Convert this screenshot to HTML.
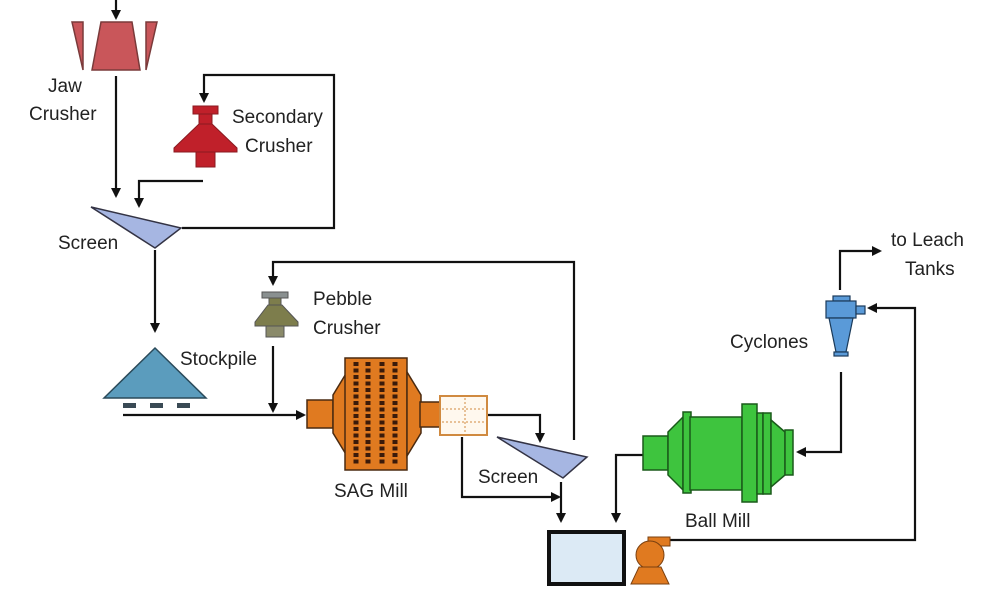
<!DOCTYPE html>
<html><head><meta charset="utf-8"><style>
html,body{margin:0;padding:0;background:#fff;}
svg{display:block;}
text{font-family:"Liberation Sans",sans-serif;font-size:19px;fill:#222;}
</style></head><body>
<svg width="986" height="602" viewBox="0 0 986 602" xmlns="http://www.w3.org/2000/svg">
<defs>
<marker id="a" markerWidth="10" markerHeight="10" refX="8" refY="5" orient="auto" markerUnits="userSpaceOnUse"><path d="M0,0 L10,5 L0,10 z" fill="#111"/></marker>
</defs>
<g fill="none" stroke="#111" stroke-width="2.2">
<path d="M116,0 V18" marker-end="url(#a)"/>
<path d="M116,76 V196" marker-end="url(#a)"/>
<path d="M182,228 H334 V75 H204 V101" marker-end="url(#a)"/>
<path d="M203,181 H139 V206" marker-end="url(#a)"/>
<path d="M155,250 V331" marker-end="url(#a)"/>
<path d="M123,415 H304" marker-end="url(#a)"/>
<path d="M273,346 V411" marker-end="url(#a)"/>
<path d="M574,440 V262 H273 V284" marker-end="url(#a)"/>
<path d="M487,415 H540 V441" marker-end="url(#a)"/>
<path d="M462,437 V497 H559" marker-end="url(#a)"/>
<path d="M561,482 V521" marker-end="url(#a)"/>
<path d="M643,455 H616 V521" marker-end="url(#a)"/>
<path d="M841,372 V452 H798" marker-end="url(#a)"/>
<path d="M670,540 H915 V308 H869" marker-end="url(#a)"/>
<path d="M840,290 V251 H880" marker-end="url(#a)"/>
</g>
<g fill="#c9565a" stroke="#7a3a3a" stroke-width="1.5">
<polygon points="101,22 132,22 140,70 92,70"/>
<polygon points="72,22 83,22 83,70"/>
<polygon points="146,22 157,22 146,70"/>
</g>
<g fill="#c0202a" stroke="#8a1a20" stroke-width="1">
<rect x="193" y="106" width="25" height="8"/>
<rect x="199" y="114" width="13" height="10"/>
<polygon points="199,124 212,124 237,148 237,152 174,152 174,148"/>
<rect x="196" y="152" width="19" height="15"/>
</g>
<polygon points="91,207 181,228 155,248" fill="#a6b6e2" stroke="#334" stroke-width="1.5"/>
<polygon points="104,398 155,348 206,398" fill="#5b9cbd" stroke="#2a4a5a" stroke-width="1.5"/>
<g fill="#3a4a55"><rect x="123" y="403" width="13" height="5"/><rect x="150" y="403" width="13" height="5"/><rect x="177" y="403" width="13" height="5"/></g>
<g fill="#7d7d4c" stroke="#555" stroke-width="1">
<rect x="262" y="292" width="26" height="6" fill="#8a9090"/>
<rect x="269" y="298" width="12" height="7"/>
<polygon points="268,305 282,305 298,322 298,326 255,326 255,322"/>
<rect x="266" y="326" width="18" height="11" fill="#8a8a6a"/>
</g>
<g fill="#e07a20" stroke="#4a2a10" stroke-width="1.5">
<rect x="307" y="400" width="26" height="28"/>
<polygon points="333,395 347,372 347,456 333,433"/>
<rect x="345" y="358" width="62" height="112"/>
<polygon points="407,372 421,395 421,433 407,456"/>
<rect x="420" y="402" width="20" height="25"/>
</g>
<g stroke="#3a1a0a" stroke-width="5" stroke-dasharray="4,2.5" fill="none">
<path d="M356,362 V466 M368,362 V466 M382,362 V466 M395,362 V466"/>
</g>
<rect x="440" y="396" width="47" height="39" fill="#fff8ee" stroke="#d08a40" stroke-width="2"/>
<path d="M442,409 H485 M442,422 H485 M465,398 V433" stroke="#d08a40" stroke-dasharray="2,2" fill="none"/>
<polygon points="497,437 587,457 563,478" fill="#a6b6e2" stroke="#334" stroke-width="1.5"/>
<rect x="549" y="532" width="75" height="52" fill="#dceaf5" stroke="#111" stroke-width="4"/>
<g fill="#e07a20" stroke="#7a4010" stroke-width="1">
<rect x="648" y="537" width="22" height="9"/>
<circle cx="650" cy="555" r="14"/>
<polygon points="639,567 661,567 669,584 631,584"/>
</g>
<g fill="#3ec43e" stroke="#1a5a1a" stroke-width="1.5">
<rect x="643" y="436" width="25" height="34"/>
<polygon points="668,432 683,417 683,490 668,475"/>
<rect x="683" y="412" width="8" height="81"/>
<rect x="690" y="417" width="52" height="73"/>
<rect x="742" y="404" width="15" height="98"/>
<rect x="757" y="413" width="6" height="81"/>
<rect x="763" y="413" width="8" height="81"/>
<polygon points="771,420 785,432 785,475 771,487"/>
<rect x="785" y="430" width="8" height="45"/>
</g>
<g fill="#5a9ad8" stroke="#1a3a5a" stroke-width="1.2">
<rect x="833" y="296" width="17" height="5"/>
<rect x="826" y="301" width="30" height="17"/>
<rect x="856" y="306" width="9" height="8"/>
<polygon points="829,318 853,318 846,352 836,352"/>
<rect x="834" y="352" width="14" height="4"/>
</g>
<text x="48" y="92">Jaw</text>
<text x="29" y="120">Crusher</text>
<text x="232" y="123">Secondary</text>
<text x="245" y="152">Crusher</text>
<text x="58" y="249">Screen</text>
<text x="313" y="305">Pebble</text>
<text x="313" y="334">Crusher</text>
<text x="180" y="365">Stockpile</text>
<text x="334" y="497">SAG Mill</text>
<text x="478" y="483">Screen</text>
<text x="685" y="527">Ball Mill</text>
<text x="730" y="348">Cyclones</text>
<text x="891" y="246">to Leach</text>
<text x="905" y="275">Tanks</text>
</svg>
</body></html>
